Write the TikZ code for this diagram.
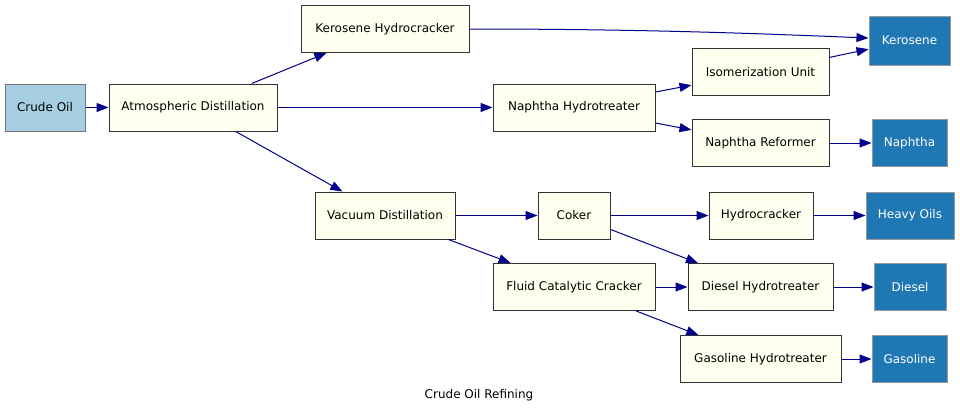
\documentclass[tikz,border=0pt]{standalone}
\usepackage{fontspec}
\setmainfont{DejaVu Sans}
\usetikzlibrary{arrows.meta,positioning}
\definecolor{srcblue}{HTML}{A6CEE3}
\definecolor{unitfill}{HTML}{FFFFF0}
\definecolor{prodblue}{HTML}{1F78B4}
\definecolor{edgeblue}{HTML}{00008B}

\begin{document}
\begin{tikzpicture}[x=1pt, y=-1pt,
            every node/.style={font=\fontsize{12}{14}\selectfont},
            unit/.style={draw=black!80, line width=1pt, fill=unitfill, rectangle, minimum height=47pt, inner sep=0pt},
            source/.style={unit, draw=black!55, fill=srcblue},
            product/.style={unit, draw=black!40, fill=prodblue, text=white},
            flow/.style={draw=edgeblue, line width=1pt, -{Triangle[length=12pt,width=9pt]}}]
        \useasboundingbox (0,0) rectangle (960,415);
        % feed and first stage
        \node[source, minimum width=80pt] (crude) at (45,107.5) {Crude Oil};
        \node[unit, minimum width=168pt] (atm) at (193,107.5) {Atmospheric Distillation};
        \node[unit, minimum width=168pt] (khc) at (385,29) {Kerosene Hydrocracker};
        \node[unit, minimum width=162pt] (nht) at (574,107.5) {Naphtha Hydrotreater};
        \node[unit, minimum width=140pt] (vac) at (385,215.5) {Vacuum Distillation};
        % secondary units
        \node[unit, minimum width=137pt] (iso) at (760.5,72) {Isomerization Unit};
        \node[unit, minimum width=137pt] (ref) at (760.5,143) {Naphtha Reformer};
        \node[unit, minimum width=72pt] (coker) at (574,215.5) {Coker};
        \node[unit, minimum width=104pt] (hc) at (761,215.5) {Hydrocracker};
        \node[unit, minimum width=162pt] (fcc) at (574,287) {Fluid Catalytic Cracker};
        \node[unit, minimum width=145pt] (dht) at (760.5,287) {Diesel Hydrotreater};
        \node[unit, minimum width=161pt] (ght) at (760.5,359) {Gasoline Hydrotreater};
        % products
        \node[product, minimum width=81pt, minimum height=49pt] (kero) at (909.5,40.5) {Kerosene};
        \node[product, minimum width=75pt] (naph) at (909.5,143) {Naphtha};
        \node[product, minimum width=88pt] (heavy) at (910,215.5) {Heavy Oils};
        \node[product, minimum width=72pt] (diesel) at (910,287) {Diesel};
        \node[product, minimum width=75pt] (gaso) at (909.5,359) {Gasoline};
        \node (title) at (479,395) {Crude Oil Refining};

        \draw[flow] (crude) -- (atm);
        \draw[flow] (atm) -- (khc);
        \draw[flow] (atm) -- (nht);
        \draw[flow] (atm) -- (vac);
        \draw[flow] (khc.east) .. controls +(180,0) and +(-100,-4) .. ([yshift=2.5pt]kero.west);
        \draw[flow] (nht) -- (iso);
        \draw[flow] (nht) -- (ref);
        \draw[flow] (iso) -- (kero);
        \draw[flow] (ref) -- (naph);
        \draw[flow] (vac) -- (coker);
        \draw[flow] (vac) -- (fcc);
        \draw[flow] (coker) -- (hc);
        \draw[flow] (coker) -- (dht);
        \draw[flow] (hc) -- (heavy);
        \draw[flow] (fcc) -- (dht);
        \draw[flow] (fcc) -- (ght);
        \draw[flow] (dht) -- (diesel);
        \draw[flow] (ght) -- (gaso);
\end{tikzpicture}
\end{document}
